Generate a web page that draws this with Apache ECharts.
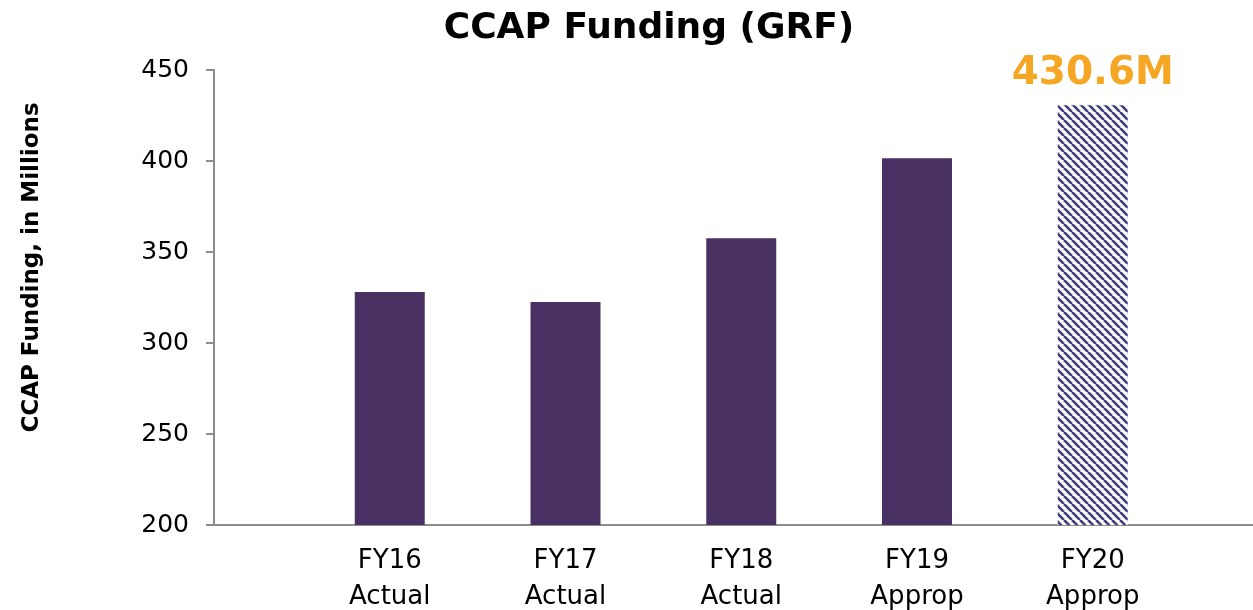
<!DOCTYPE html>
<html lang="en">
<head>
    <meta charset="UTF-8">
    <title>CCAP Funding (GRF)</title>
    <script src="https://cdn.jsdelivr.net/npm/echarts@6/dist/echarts.min.js"></script>
    <style>
        body { margin: 0; background: #fff; }
    </style>
</head>
<body>
<div id="main" style="width:1253px; height:610px"></div>
<script>
    var categories = ['', 'FY16\nActual', 'FY17\nActual', 'FY18\nActual', 'FY19\nApprop', 'FY20\nApprop', ''];
    var funding = [null, 328, 322.5, 357.5, 401.5, 430.6, null];
    var yTicks = {min: 200, max: 450, step: 50};

    // striped tile for the FY20 bar
    var tile = document.createElement('canvas');
    tile.width = 8; tile.height = 8;
    var ctx = tile.getContext('2d');
    ctx.fillStyle = '#ffffff';
    ctx.fillRect(0, 0, 8, 8);
    ctx.strokeStyle = '#3f3c7c';
    ctx.lineWidth = 2.6;
    [-8, 0, 8].forEach(function (o) {
        ctx.beginPath();
        ctx.moveTo(o, 0);
        ctx.lineTo(o + 8, 8);
        ctx.stroke();
    });

    var font = '"DejaVu Sans", sans-serif';

    var barData = funding.map(function (v, i) {
        if (i === 5) {
            return {
                value: v,
                itemStyle: {color: {image: tile, repeat: 'repeat'}},
                label: {
                    show: true, position: 'top', distance: 12,
                    formatter: function (p) { return p.value + 'M'; },
                    color: '#f5a623', fontSize: 39, fontWeight: 'bold', fontFamily: font
                }
            };
        }
        return v;
    });

    var myChart = echarts.init(document.getElementById('main'));
    var option = {
        animation: false,
        title: {
            text: 'CCAP Funding (GRF)',
            left: 644, top: 6, textAlign: 'center',
            textStyle: {fontSize: 36, fontWeight: 'bold', color: '#000', fontFamily: font}
        },
        grid: {left: 214, top: 70, height: 455, width: 1054.5, outerBoundsMode: 'none', containLabel: false},
        xAxis: {
            type: 'category',
            data: categories,
            boundaryGap: false,
            axisLine: {lineStyle: {color: '#8c8c8c', width: 2}},
            axisTick: {show: false},
            axisLabel: {color: '#000', fontSize: 26, lineHeight: 36, margin: 18, fontFamily: font, interval: 0}
        },
        yAxis: {
            type: 'value',
            min: yTicks.min, max: yTicks.max, interval: yTicks.step,
            name: 'CCAP Funding, in Millions',
            nameLocation: 'middle', nameGap: 170, nameRotate: 90,
            nameTextStyle: {fontSize: 23, fontWeight: 'bold', color: '#000', fontFamily: font, padding: [0, 0, 0, 60]},
            axisLine: {show: true, lineStyle: {color: '#8c8c8c', width: 2}},
            axisTick: {show: true, length: 8, lineStyle: {color: '#8c8c8c', width: 2}},
            axisLabel: {color: '#000', fontSize: 25, margin: 25, fontFamily: font},
            splitLine: {show: false}
        },
        series: [{
            type: 'bar',
            data: barData,
            barWidth: 70,
            itemStyle: {color: '#4a3163'}
        }]
    };
    myChart.setOption(option);
</script>
</body>
</html>
